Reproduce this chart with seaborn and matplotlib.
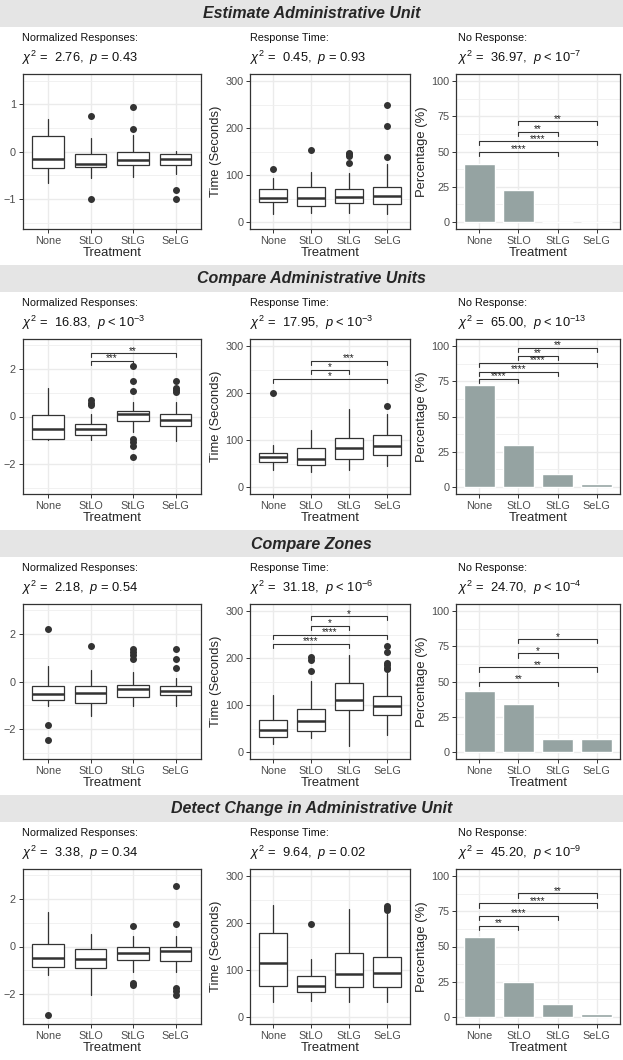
import matplotlib
matplotlib.use("Agg")
import matplotlib.pyplot as plt
from matplotlib.patches import Rectangle
from matplotlib.ticker import MultipleLocator
import seaborn as sns

treatments = ['None', 'StLO', 'StLG', 'SeLG']
section_titles = ['Estimate Administrative Unit', 'Compare Administrative Units',
                  'Compare Zones', 'Detect Change in Administrative Unit']

# chi-square / p-value annotations per section
norm_chi = ['2.76', '16.83', '2.18', '3.38']
norm_p = ['= 0.43', '< $10^{-3}$', '= 0.54', '= 0.34']
time_chi = ['0.45', '17.95', '31.18', '9.64']
time_p = ['= 0.93', '< $10^{-3}$', '< $10^{-6}$', '= 0.02']
pct_chi = ['36.97', '65.00', '24.70', '45.20']
pct_p = ['< $10^{-7}$', '< $10^{-13}$', '< $10^{-4}$', '< $10^{-9}$']

# normalized responses: box stats per section, per treatment
norm_lo = [[-0.65, -0.56, -0.53, -0.47], [-1.0, -1.0, -0.67, -1.02],
           [-1.02, -1.45, -1.02, -1.02], [-1.19, -2.04, -1.06, -1.06]]
norm_q1 = [[-0.35, -0.33, -0.28, -0.28], [-0.95, -0.78, -0.21, -0.4],
           [-0.78, -0.92, -0.65, -0.55], [-0.88, -0.92, -0.55, -0.62]]
norm_med = [[-0.155, -0.26, -0.18, -0.155], [-0.52, -0.52, 0.1, -0.13],
            [-0.52, -0.48, -0.31, -0.38], [-0.47, -0.54, -0.26, -0.21]]
norm_q3 = [[0.34, -0.05, 0.0, -0.04], [0.07, -0.33, 0.23, 0.11],
           [-0.18, -0.21, -0.13, -0.17], [0.11, -0.11, -0.03, -0.03]]
norm_hi = [[0.69, 0.30, 0.35, 0.02], [1.2, 0.09, 0.61, 0.61],
           [0.64, 0.47, 0.38, 0.16], [1.46, 0.54, 0.44, 0.45]]
norm_out = [[[], [0.76, -1.0], [0.95, 0.47], [-0.8, -1.0]],
            [[], [0.68, 0.57, 0.47], [2.13, 1.49, 1.08, -0.95, -1.06, -1.23, -1.70], [1.5, 1.22, 1.12, 1.02]],
            [[2.2, -1.84, -2.48], [1.49], [1.39, 1.25, 1.1, 0.95], [1.39, 0.96, 0.58]],
            [[-2.89], [], [0.88, -1.52, -1.63], [2.55, 0.96, -1.74, -1.87, -2.06]]]

# response time (seconds)
time_lo = [[17, 19, 20, 18], [37, 33, 36, 45], [18, 30, 14, 37], [33, 35, 32, 33]]
time_q1 = [[42, 35, 40, 39], [53, 47, 60, 68.5], [32, 46, 89, 78], [66, 54, 63.5, 63.5]]
time_med = [[52, 51, 54, 56], [65, 59, 84, 87.5], [47, 66, 110, 99], [116, 66, 92, 93]]
time_q3 = [[70, 75.5, 70, 75.5], [73, 84, 104, 111], [68.5, 92, 146, 119], [178, 87.5, 137, 127]]
time_hi = [[93, 107, 105, 123], [90, 121, 166, 155], [121, 152, 206, 169], [238, 123, 231, 219]]
time_out = [[[112], [153], [148, 145, 141, 125], [249, 205, 138]],
            [[201], [], [], [173]],
            [[], [202, 195, 173], [], [226, 212, 190, 185, 180, 176]],
            [[], [198], [], [236, 232, 227]]]

# no response percentage
pct_none = [[41, 23, 0, 0], [72.5, 29.5, 9, 2.3], [43, 34, 9, 9], [56.5, 25, 9, 2.3]]

# significance brackets: (group a, group b, height, label)
norm_brackets = [[], [(1, 3, 2.67, '**'), (1, 2, 2.36, '***')], [], []]
time_brackets = [[],
                 [(1, 3, 269, '***'), (1, 2, 249, '*'), (0, 3, 230, '*')],
                 [(1, 3, 289, '*'), (1, 2, 269, '*'), (0, 3, 250, '****'), (0, 2, 230, '****')],
                 []]
pct_brackets = [[(1, 3, 71.5, '**'), (1, 2, 64, '**'), (0, 3, 57.3, '****'), (0, 2, 50, '****')],
                [(1, 3, 98.8, '**'), (1, 2, 93.2, '**'), (0, 3, 88, '****'), (0, 2, 81.8, '****'), (0, 1, 76.6, '****')],
                [(1, 3, 80, '*'), (1, 2, 70, '*'), (0, 3, 60, '**'), (0, 2, 50, '**')],
                [(1, 3, 87.7, '**'), (0, 3, 80.6, '****'), (0, 2, 71.9, '****'), (0, 1, 64.8, '**')]]

sns.set_style('ticks')
plt.rcParams['font.family'] = ['Liberation Sans', 'DejaVu Sans']
plt.rcParams['mathtext.fontset'] = 'custom'
plt.rcParams['mathtext.rm'] = 'Liberation Sans'
plt.rcParams['mathtext.it'] = 'Liberation Sans:italic'
plt.rcParams['mathtext.bf'] = 'Liberation Sans:bold'

W, H = 623, 1060
DARK = '#333333'
BAR = '#95A3A2'
fig = plt.figure(figsize=(W / 100, H / 100), dpi=100)


def add_ax(x0, x1, top, bottom):
    return fig.add_axes([x0 / W, 1 - bottom / H, (x1 - x0) / W, (bottom - top) / H])


def style_ax(ax, ylim, major, minor):
    ax.set_xlim(-0.6, 3.6)
    ax.set_ylim(*ylim)
    ax.set_xticks(range(4))
    ax.set_xticklabels(treatments)
    ax.yaxis.set_major_locator(MultipleLocator(major))
    ax.yaxis.set_minor_locator(MultipleLocator(minor))
    ax.set_axisbelow(True)
    ax.grid(which='major', color='#EBEBEB', lw=1.0)
    ax.grid(which='minor', axis='y', color='#EFEFEF', lw=0.6)
    ax.tick_params(which='major', colors=DARK, labelcolor='#4D4D4D', labelsize=7.8,
                   length=2.8, width=0.7, pad=2)
    ax.tick_params(which='minor', length=0)
    for s in ax.spines.values():
        s.set_color(DARK)
        s.set_linewidth(0.9)
    ax.set_xlabel('Treatment', fontsize=9.4, labelpad=1)


def draw_boxes(ax, lo, q1, med, q3, hi, out):
    stats = []
    for i in range(4):
        stats.append(dict(whislo=lo[i], q1=q1[i], med=med[i], q3=q3[i],
                          whishi=hi[i], fliers=out[i]))
    ax.bxp(stats, positions=range(4), widths=0.75, patch_artist=True, showcaps=False,
           boxprops=dict(facecolor='white', edgecolor=DARK, lw=0.9),
           whiskerprops=dict(color=DARK, lw=0.9),
           medianprops=dict(color=DARK, lw=1.8),
           flierprops=dict(marker='o', markerfacecolor=DARK, markeredgecolor=DARK,
                           markersize=4, lw=0))


def draw_brackets(ax, brackets):
    y0, y1 = ax.get_ylim()
    tip = 4.2 / 155 * (y1 - y0)
    for a, b, y, lab in brackets:
        ax.plot([a, a, b, b], [y - tip, y, y, y - tip], color=DARK, lw=0.8)
        ax.text((a + b) / 2, y - tip * 0.1, lab, ha='center', va='baseline',
                fontsize=7.3, color='#222222')


def header(x, y, name, chi, p):
    fig.text(x / W, 1 - y / H, name, fontsize=7.8, va='center', ha='left', color='#111111')
    fig.text(x / W, 1 - (y + 20) / H, f'$\\chi^{{2}}$ =  {chi},  $p$ {p}',
             fontsize=9.3, va='center', ha='left', color='#111111')


for k in range(4):
    off = 265 * k
    fig.add_artist(Rectangle((0, 1 - (off + 27) / H), 1, 27 / H, transform=fig.transFigure,
                             facecolor='#E5E5E5', edgecolor='none', zorder=0))
    fig.text(0.5, 1 - (off + 14) / H, section_titles[k], ha='center', va='center',
             fontsize=11.5, fontweight='bold', fontstyle='italic')

    header(22, off + 38, 'Normalized Responses:', norm_chi[k], norm_p[k])
    header(250, off + 38, 'Response Time:', time_chi[k], time_p[k])
    header(458, off + 38, 'No Response:', pct_chi[k], pct_p[k])

    # normalized responses
    ax1 = add_ax(22.6, 201, off + 74, off + 229)
    draw_boxes(ax1, norm_lo[k], norm_q1[k], norm_med[k], norm_q3[k], norm_hi[k], norm_out[k])
    if k == 0:
        style_ax(ax1, (-1.63, 1.64), 1, 0.5)
    else:
        style_ax(ax1, (-3.27, 3.27), 2, 1)
    draw_brackets(ax1, norm_brackets[k])

    # response time
    ax2 = add_ax(250, 410, off + 74, off + 229)
    draw_boxes(ax2, time_lo[k], time_q1[k], time_med[k], time_q3[k], time_hi[k], time_out[k])
    style_ax(ax2, (-14.5, 315), 100, 50)
    ax2.set_ylabel('Time (Seconds)', fontsize=9.4, labelpad=2)
    draw_brackets(ax2, time_brackets[k])

    # no response percentage
    ax3 = add_ax(456, 620, off + 74, off + 229)
    sns.barplot(x=treatments, y=pct_none[k], color=BAR, saturation=1, width=0.8, ax=ax3)
    style_ax(ax3, (-5, 105), 25, 12.5)
    ax3.set_ylabel('Percentage (%)', fontsize=9.4, labelpad=2)
    draw_brackets(ax3, pct_brackets[k])

fig.savefig('out.png', dpi=100)
